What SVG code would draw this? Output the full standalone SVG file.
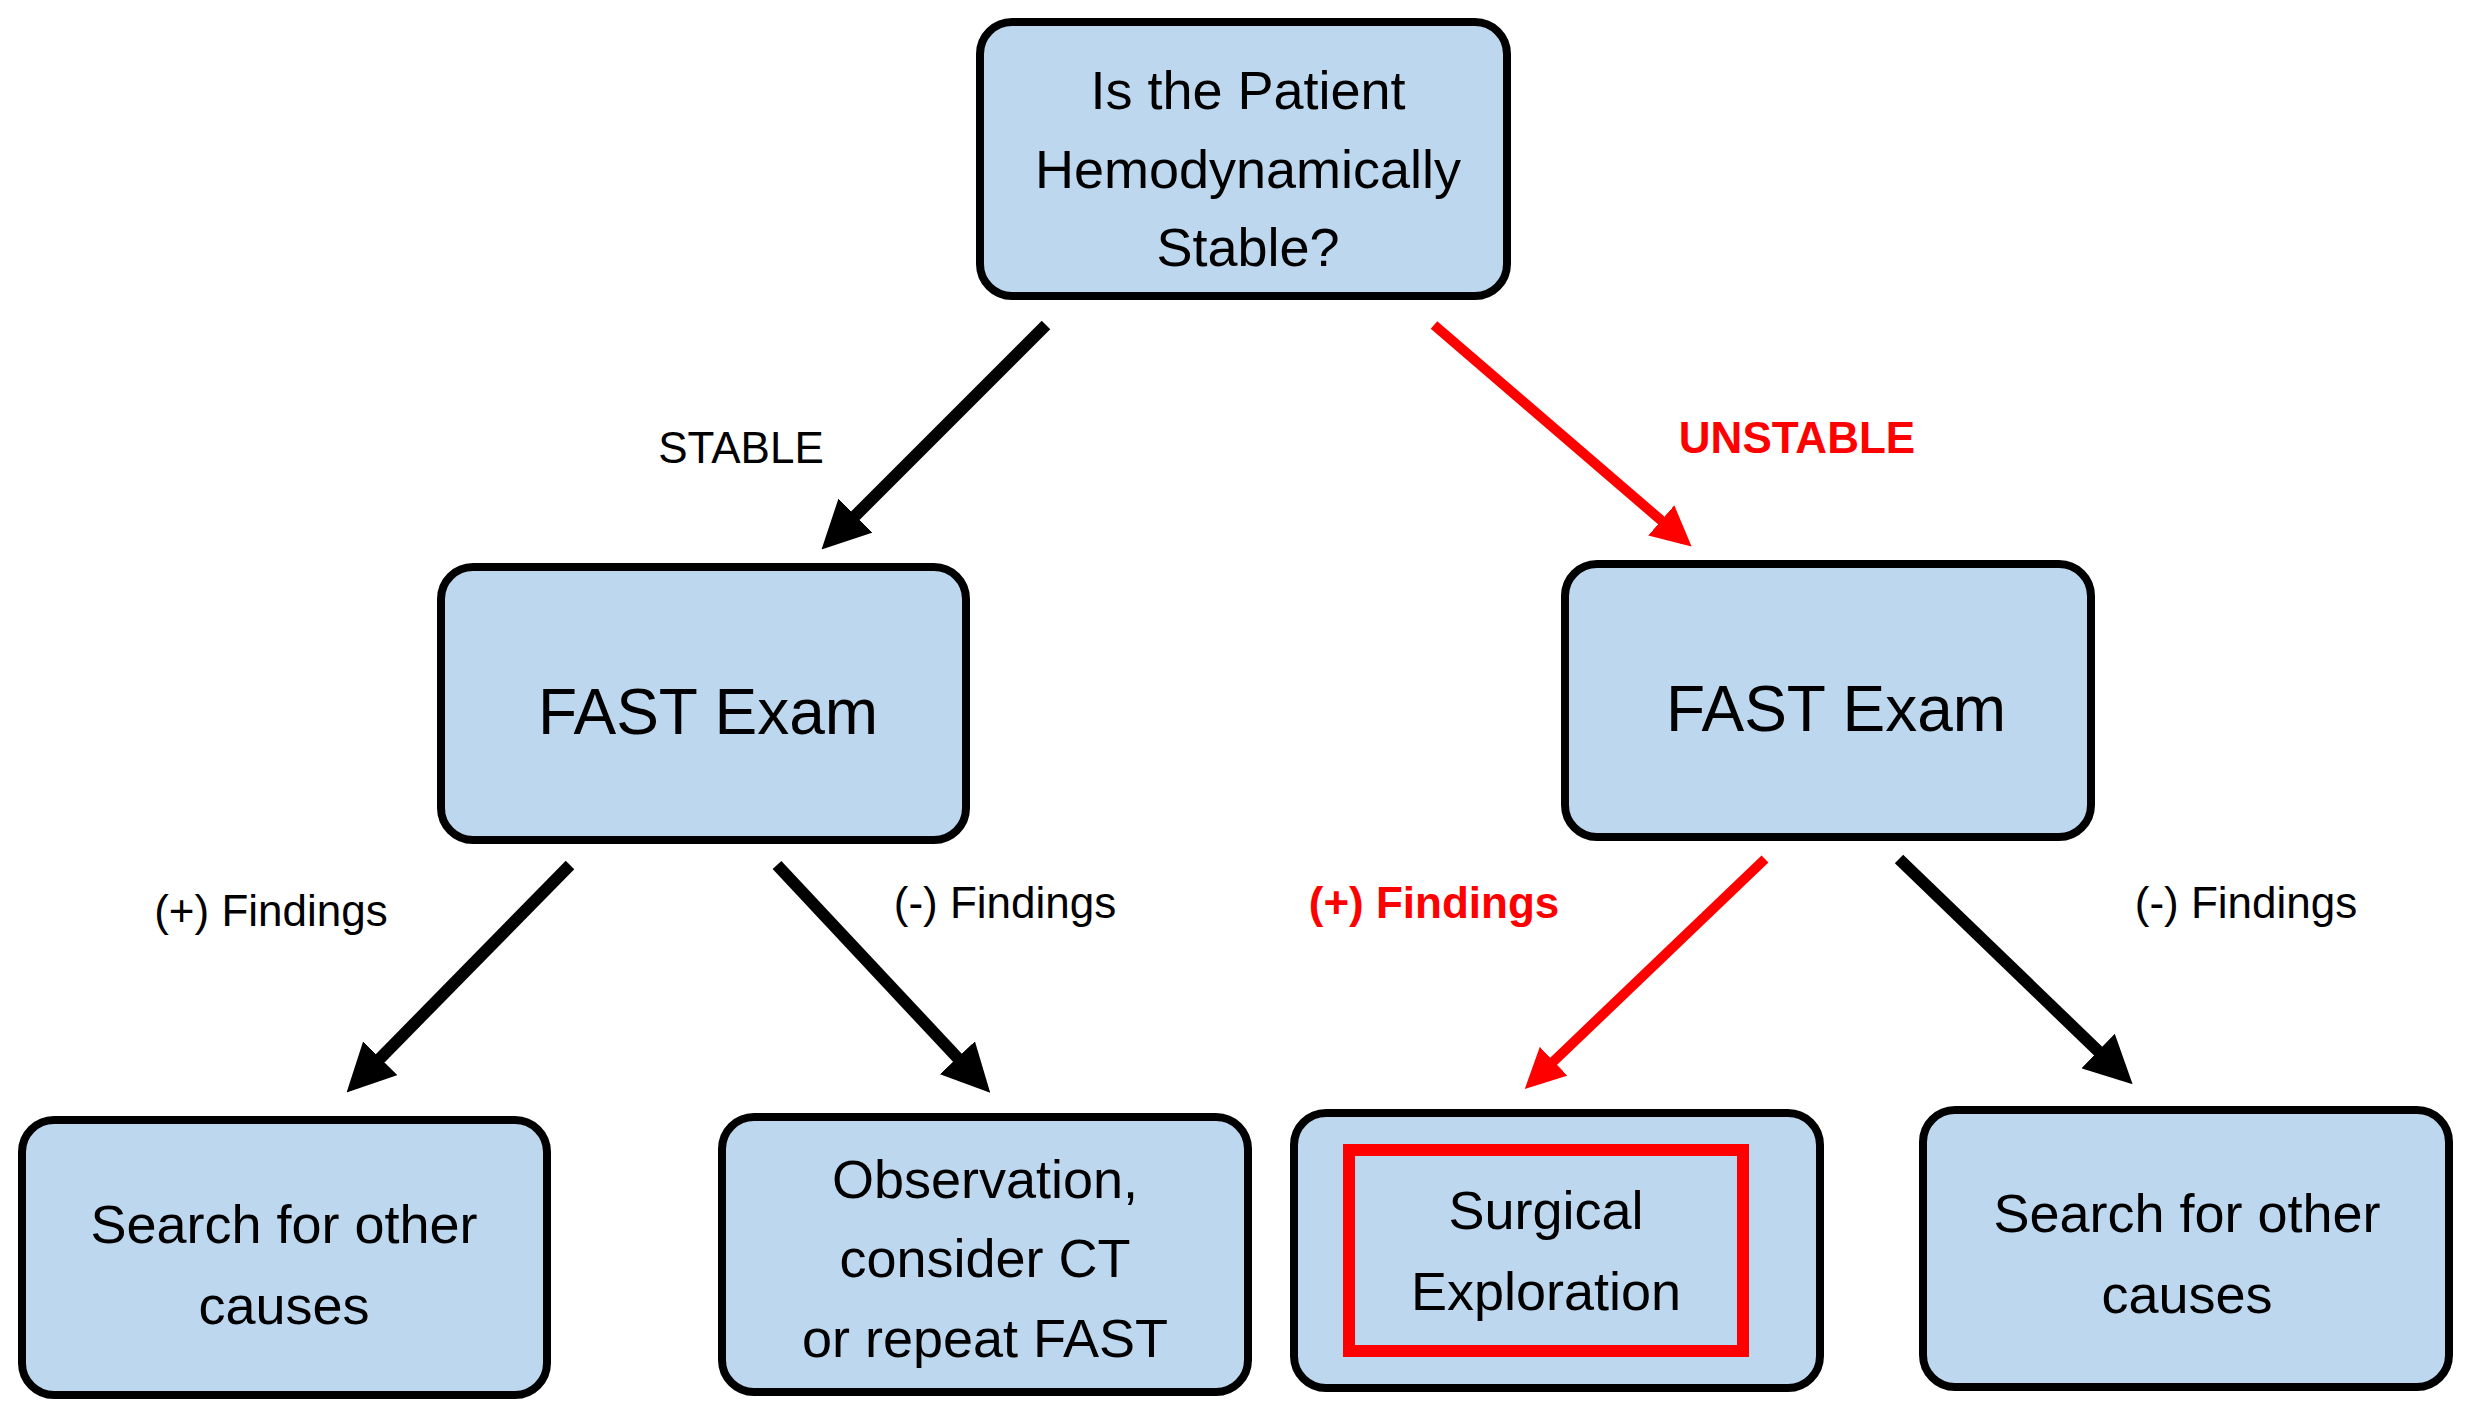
<svg xmlns="http://www.w3.org/2000/svg" width="2471" height="1414" viewBox="0 0 2471 1414">
<style>
.box{fill:#BDD7EE;stroke:#000;stroke-width:8}
.t{font-family:"Liberation Sans",Arial,sans-serif;font-size:54px;text-anchor:middle;fill:#000}
.big{font-size:64px}
.lbl{font-family:"Liberation Sans",Arial,sans-serif;font-size:44px;text-anchor:middle;fill:#000}
.red{fill:#F00;font-weight:bold}
.ab{stroke:#000;stroke-width:12;fill:none;marker-end:url(#hb)}
.ar{stroke:#F00;stroke-width:10;fill:none;marker-end:url(#hr)}
</style>
<defs>
<marker id="hb" viewBox="0 0 4 4" refX="3" refY="2" markerWidth="4" markerHeight="4" orient="auto"><path d="M0,0L4,2L0,4z" fill="#000"/></marker>
<marker id="hr" viewBox="0 0 4 4" refX="3" refY="2" markerWidth="4" markerHeight="4" orient="auto"><path d="M0,0L4,2L0,4z" fill="#F00"/></marker>
</defs>
<rect width="2471" height="1414" fill="#fff"/>
<g id="connectors">
<line class="ab" x1="1046" y1="325" x2="830" y2="541"/>
<line class="ar" x1="1434" y1="325" x2="1684" y2="540"/>
<line class="ab" x1="570" y1="865" x2="355" y2="1084"/>
<line class="ab" x1="777" y1="865" x2="982" y2="1084"/>
<line class="ar" x1="1765" y1="859" x2="1532" y2="1082"/>
<line class="ab" x1="1899" y1="859" x2="2124" y2="1076"/>
<text class="lbl" x="741" y="463">STABLE</text>
<text class="lbl red" x="1797" y="453">UNSTABLE</text>
<text class="lbl" x="271" y="926">(+) Findings</text>
<text class="lbl" x="1005" y="918">(-) Findings</text>
<text class="lbl red" x="1434" y="918">(+) Findings</text>
<text class="lbl" x="2246" y="918">(-) Findings</text>
</g>
<g id="n-top"><rect class="box" x="980" y="22" width="527" height="274" rx="32"/>
<text class="t" x="1248" y="109">Is the Patient</text><text class="t" x="1248" y="188">Hemodynamically</text><text class="t" x="1248" y="266">Stable?</text></g>
<g id="n-fast-left"><rect class="box" x="441" y="567" width="525" height="273" rx="32"/><text class="t big" x="708" y="734">FAST Exam</text></g>
<g id="n-fast-right"><rect class="box" x="1565" y="564" width="526" height="273" rx="32"/><text class="t big" x="1836" y="731">FAST Exam</text></g>
<g id="n-search-left"><rect class="box" x="22" y="1120" width="525" height="275" rx="32"/>
<text class="t" x="284" y="1243">Search for other</text><text class="t" x="284" y="1324">causes</text></g>
<g id="n-observation"><rect class="box" x="722" y="1117" width="526" height="275" rx="32"/>
<text class="t" x="985" y="1198">Observation,</text><text class="t" x="985" y="1277">consider CT</text><text class="t" x="985" y="1357">or repeat FAST</text></g>
<g id="n-surgical"><rect class="box" x="1294" y="1113" width="526" height="275" rx="32"/>
<rect x="1349" y="1150" width="394" height="201" fill="none" stroke="#F00" stroke-width="12"/>
<text class="t" x="1546" y="1229">Surgical</text><text class="t" x="1546" y="1310">Exploration</text></g>
<g id="n-search-right"><rect class="box" x="1923" y="1110" width="526" height="277" rx="32"/>
<text class="t" x="2187" y="1232">Search for other</text><text class="t" x="2187" y="1313">causes</text></g>
</svg>
